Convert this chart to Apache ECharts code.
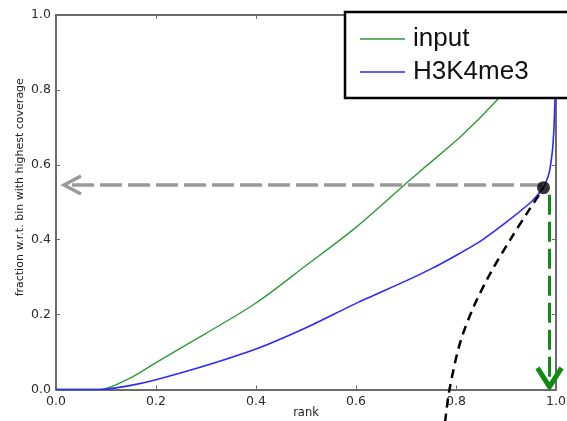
<!DOCTYPE html>
<html>
<head>
<meta charset="utf-8">
<script src="https://cdn.jsdelivr.net/npm/echarts@6/dist/echarts.min.js"></script>
<style>html,body{margin:0;padding:0;background:#fff;overflow:hidden;}#c{width:567px;height:421px;}</style>
</head>
<body>
<div id="c"></div>
<script>
// tick labels
const xTicks = [0, 0.2, 0.4, 0.6, 0.8, 1.0];
const yTicks = [0, 0.2, 0.4, 0.6, 0.8, 1.0];
// input curve
const inputRank = [0, 0.088, 0.15, 0.2, 0.3, 0.4, 0.5, 0.6, 0.7, 0.73, 0.81, 0.885, 0.95, 1.0];
const inputFraction = [0, 0, 0.032, 0.072, 0.15, 0.231, 0.331, 0.433, 0.55, 0.585, 0.676, 0.777, 0.88, 1.0];
// H3K4me3 curve
const chipRank = [0, 0.09, 0.15, 0.2, 0.3, 0.4, 0.5, 0.6, 0.7, 0.75, 0.8, 0.85, 0.9, 0.948, 0.961, 0.975, 0.984, 0.988, 0.993, 0.996, 0.998, 0.999, 1.0];
const chipFraction = [0, 0, 0.011, 0.026, 0.064, 0.108, 0.165, 0.23, 0.29, 0.322, 0.358, 0.397, 0.446, 0.498, 0.516, 0.54, 0.568, 0.59, 0.64, 0.70, 0.775, 0.86, 1.0];
// black dashed guide curve
const guideRank = [0.778, 0.787, 0.808, 0.835, 0.869, 0.908, 0.943, 0.968, 0.974];
const guideFraction = [-0.088, 0.0, 0.124, 0.22, 0.311, 0.399, 0.473, 0.524, 0.54];
// marked point
const pointRank = [0.975];
const pointFraction = [0.539];
// gray arrow (to y axis)
const grayArrowRank = [0.972, 0.016];
const grayArrowFraction = [0.546, 0.546];
// green arrow (to x axis)
const greenArrowRank = [0.987, 0.987];
const greenArrowFraction = [0.52, 0.007];

const zip = (a, b) => a.map((v, i) => [v, b[i]]);
const axisCol = '#6b6b6b';
const labelCol = '#2a2a2a';
const tickFont = {fontFamily: 'DejaVu Sans', fontSize: 12.5, color: labelCol};

const dom = document.getElementById('c');
const chart = echarts.init(dom, null, {renderer: 'canvas'});

function arrowHead(color, width, dir) {
  return function (params, api) {
    const p = api.coord([api.value(0), api.value(1)]);
    let pts;
    if (dir === 'left') pts = [[p[0] + 17, p[1] - 9], p, [p[0] + 17, p[1] + 9]];
    else pts = [[p[0] - 12, p[1] - 19], p, [p[0] + 12, p[1] - 19]];
    return {type: 'polyline', shape: {points: pts}, style: {stroke: color, lineWidth: width, fill: null, lineJoin: 'miter'}, z2: 10};
  };
}

chart.setOption({
  animation: false,
  backgroundColor: '#fff',
  grid: {left: 56, right: 11, top: 15, bottom: 31.5, containLabel: false, outerBoundsMode: 'none'},
  legend: {
    orient: 'vertical', left: 345, top: 12,
    data: ['input', 'H3K4me3'],
    icon: 'rect',
    backgroundColor: '#fff', borderColor: '#000', borderWidth: 2.5, borderRadius: 0,
    padding: [14, 70, 13, 15],
    itemWidth: 45, itemHeight: 1.5, itemGap: 7,
    textStyle: {fontFamily: 'Liberation Sans', fontSize: 26, color: '#111', padding: [0, 0, 0, 3]},
    z: 20
  },
  xAxis: [{
    type: 'value', min: 0, max: 1, interval: 0.2, position: 'bottom',
    name: 'rank', nameLocation: 'middle', nameGap: 17.5, nameMoveOverlap: false,
    nameTextStyle: {fontFamily: 'DejaVu Sans', fontSize: 11.5, color: '#222'},
    axisLine: {show: true, lineStyle: {color: axisCol, width: 2}},
    axisTick: {show: true, inside: true, length: 4, lineStyle: {color: axisCol, width: 1}},
    axisLabel: Object.assign({margin: 6, formatter: v => xTicks.includes(+v.toFixed(1)) ? v.toFixed(1) : ''}, tickFont),
    splitLine: {show: false}
  }, {
    type: 'value', min: 0, max: 1, interval: 0.2, position: 'top',
    axisLine: {show: true, onZero: false, lineStyle: {color: axisCol, width: 2}},
    axisTick: {show: true, inside: true, length: 4, lineStyle: {color: axisCol, width: 1}},
    axisLabel: {show: false}, splitLine: {show: false}
  }],
  yAxis: [{
    type: 'value', min: 0, max: 1, interval: 0.2, position: 'left',
    name: 'fraction w.r.t. bin with highest coverage', nameLocation: 'middle', nameGap: 30.5, nameMoveOverlap: false,
    nameTextStyle: {fontFamily: 'DejaVu Sans', fontSize: 11, color: '#222', padding: [0, 0, 0, 30]},
    axisLine: {show: true, lineStyle: {color: axisCol, width: 2}},
    axisTick: {show: true, inside: true, length: 4, lineStyle: {color: axisCol, width: 1}},
    axisLabel: Object.assign({margin: 5, formatter: v => yTicks.includes(+v.toFixed(1)) ? v.toFixed(1) : ''}, tickFont),
    splitLine: {show: false}
  }, {
    type: 'value', min: 0, max: 1, interval: 0.2, position: 'right',
    axisLine: {show: true, onZero: false, lineStyle: {color: axisCol, width: 2}},
    axisTick: {show: true, inside: true, length: 4, lineStyle: {color: axisCol, width: 1}},
    axisLabel: {show: false}, splitLine: {show: false}
  }],
  series: [
    {
      name: 'input', type: 'line', data: zip(inputRank, inputFraction),
      symbol: 'none', smooth: 0.3,
      lineStyle: {color: '#2f9a3a', width: 1.4}, itemStyle: {color: '#2f9a3a'}, z: 3
    },
    {
      name: 'H3K4me3', type: 'line', data: zip(chipRank, chipFraction),
      symbol: 'none', smooth: 0.2,
      lineStyle: {color: '#2a2aff', width: 1.6}, itemStyle: {color: '#2a2aff'}, z: 3
    },
    {
      name: 'guide', type: 'line', data: zip(guideRank, guideFraction),
      symbol: 'none', smooth: 0.3, clip: false,
      lineStyle: {color: '#000', width: 2.5, type: [9, 6]}, z: 4
    },
    {
      name: 'grayArrow', type: 'line', data: zip(grayArrowRank, grayArrowFraction),
      symbol: 'none', lineStyle: {color: '#9a9a9a', width: 3.5, type: [22, 6]}, z: 5
    },
    {
      name: 'greenArrow', type: 'line', data: zip(greenArrowRank, greenArrowFraction),
      symbol: 'none', lineStyle: {color: '#138a13', width: 3, type: [20, 7]}, z: 5
    },
    {
      name: 'grayHead', type: 'custom', data: [[grayArrowRank[1], grayArrowFraction[1]]],
      renderItem: arrowHead('#9a9a9a', 3.5, 'left'), z: 6, clip: false
    },
    {
      name: 'greenHead', type: 'custom', data: [[greenArrowRank[1], greenArrowFraction[1]]],
      renderItem: arrowHead('#138a13', 5, 'down'), z: 6, clip: false
    },
    {
      name: 'point', type: 'scatter', data: zip(pointRank, pointFraction),
      symbol: 'circle', symbolSize: 13, itemStyle: {color: '#000'}, z: 8
    }
  ]
});
</script>
</body>
</html>
